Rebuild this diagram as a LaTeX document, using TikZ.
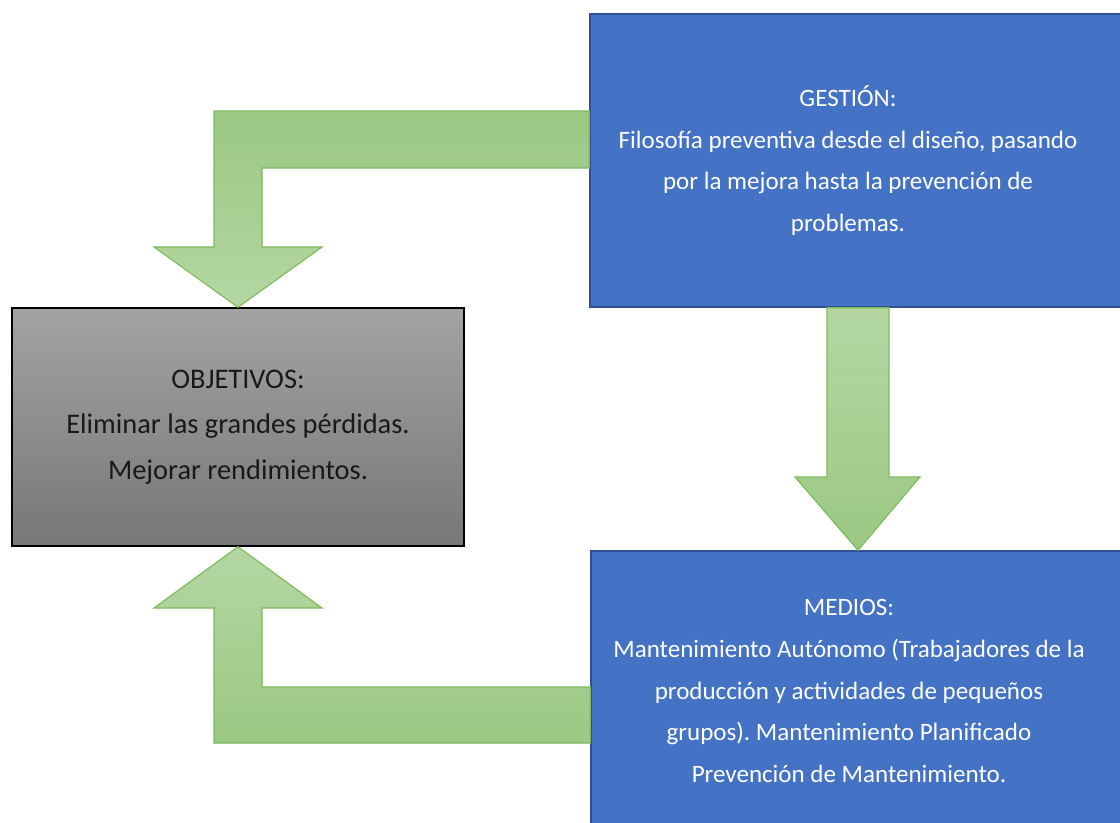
\documentclass[tikz,border=0pt]{standalone}
\usepackage{fontspec}
\setmainfont{Carlito}
\usepackage{tikz}
\usetikzlibrary{calc}
\definecolor{Blue}   {HTML}{4472C4}
\definecolor{BlueDk} {HTML}{2F528F}
\definecolor{GreenLt}{HTML}{B4D7A2}
\definecolor{GreenDk}{HTML}{9BC883}
\definecolor{GreenLn}{HTML}{7DBA5B}
\definecolor{GrayLt} {HTML}{A3A3A3}
\definecolor{GrayDk} {HTML}{777777}
\tikzset{
  blu/.style={draw=BlueDk, line width=1pt, fill=Blue, minimum width=13.5cm, inner sep=0pt},
  blutxt/.style={text=white, align=center, font=\fontsize{17.8}{29.6}\selectfont, inner sep=0pt},
  gry/.style={draw=black, line width=1pt, top color=GrayLt, bottom color=GrayDk,
              text=black!90, align=center, font=\fontsize{20.2}{32.2}\selectfont,
              minimum width=11.3cm, minimum height=5.95cm, inner sep=0pt},
  flecha/.style={draw=GreenLn, line width=0.8pt, line join=miter}
}

\begin{document}
\begin{tikzpicture}[x=0.025cm,y=-0.025cm]
  \useasboundingbox (0,0) rectangle (1120,823);
  \clip (0,0) rectangle (1120,823);
  \node[blu,minimum height=7.325cm] (G) at (860,160.5) {};
  \node[blutxt] (Gt) at ($(G.center)+(-12,0)$)
    {GESTIÓN:\\Filosofía preventiva desde el diseño, pasando\\por la mejora hasta la prevención de\\problemas.};
  \node[gry] (O) at (238,427)
    {OBJETIVOS:\\Eliminar las grandes pérdidas.\\Mejorar rendimientos.};
  \node[blu,minimum height=7.0cm] (M) at (861,691) {};
  \node[blutxt] (Mt) at ($(M.center)+(-12,0)$)
    {MEDIOS:\\Mantenimiento Autónomo (Trabajadores de la\\producción y actividades de pequeños\\grupos).\ Mantenimiento Planificado\\Prevención de Mantenimiento.};
  % flechas
  \draw[flecha,top color=GreenDk,bottom color=GreenLt]
    (G.west |- 0,111) -- (214,111) -- (214,247) -- (154,247) -- (O.north)
    -- (322,247) -- (262,247) -- (262,168) -- (G.west |- 0,168) -- cycle;
  \draw[flecha,top color=GreenLt,bottom color=GreenDk]
    (G.south -| 827,0) -- (827,477) -- (795,477) -- (M.north -| 858,0)
    -- (920,477) -- (889,477) -- (G.south -| 889,0) -- cycle;
  \draw[flecha,top color=GreenLt,bottom color=GreenDk]
    (M.west |- 0,743) -- (214,743) -- (214,608) -- (154,608) -- (O.south)
    -- (322,608) -- (262,608) -- (262,687) -- (M.west |- 0,687) -- cycle;
\end{tikzpicture}
\end{document}
